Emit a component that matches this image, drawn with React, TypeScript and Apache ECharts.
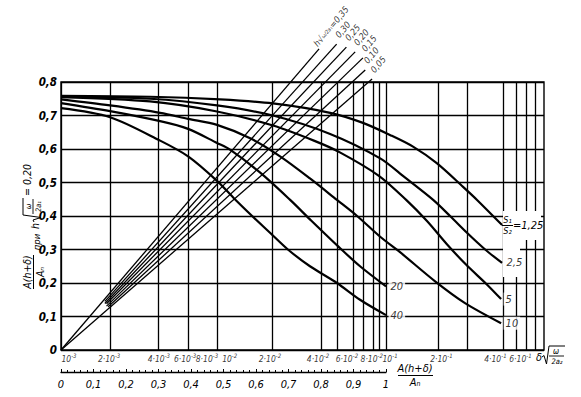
import React, { useEffect, useRef } from "react";
import * as echarts from "echarts";

const FONT = "'DejaVu Sans Condensed', 'Liberation Sans Narrow', 'Liberation Sans', sans-serif";

// ---- axes -------------------------------------------------------------
// vertical axis: A(h+δ)/A_n at h√(ω/2a₁) = 0,20
const yMin = 0;
const yMax = 0.8;
const yStep = 0.1;

// bottom linear scale A(h+δ)/A_n (labelled 0 … 1) and full grid extent in its units
const uMin = 0;
const uMax = 1;
const uStep = 0.1;
const uFull = 1.486;

// δ√(ω/2a₂) scale: grid values and where they sit on the A(h+δ)/A_n scale
const deltaValues = [0.001, 0.002, 0.004, 0.006, 0.01, 0.02, 0.04, 0.05, 0.06, 0.07, 0.08, 0.09, 0.1, 0.2, 0.3, 0.4, 0.5, 0.6, 0.8];
const deltaPositions = [0, 0.148, 0.301, 0.388, 0.476, 0.652, 0.803, 0.853, 0.895, 0.929, 0.956, 0.982, 1.0, 1.155, 1.249, 1.358, 1.399, 1.432, 1.461];

// labelled δ ticks: mantissa, exponent, position
const deltaTickMantissa = ["", "2·", "4·", "6·", "8·", "", "2·", "4·", "6·", "8·", "", "2·", "4·", "6·"];
const deltaTickExponent = ["-3", "-3", "-3", "-3", "-3", "-2", "-2", "-2", "-2", "-2", "-1", "-1", "-1", "-1"];
const deltaTickPos = [0, 0.148, 0.301, 0.388, 0.449, 0.476, 0.652, 0.803, 0.895, 0.956, 1.0, 1.155, 1.358, 1.432];

// ---- S1/S2 curves ([A(h+δ)/A_n scale position, value]) ------------------
const ratioNames = ["1,25", "2,5", "5", "10", "20", "40"];
const curveR125 = [[0, 0.759], [0.274, 0.756], [0.489, 0.748], [0.652, 0.736], [0.828, 0.708], [0.929, 0.678], [1.012, 0.642], [1.083, 0.607], [1.157, 0.557], [1.237, 0.487], [1.28, 0.448], [1.357, 0.373]];
const curveR25 = [[0, 0.757], [0.274, 0.75], [0.48, 0.73], [0.652, 0.7], [0.828, 0.645], [0.982, 0.572], [1.058, 0.515], [1.145, 0.448], [1.197, 0.4], [1.249, 0.35], [1.305, 0.3], [1.357, 0.26]];
const curveR5 = [[0, 0.755], [0.274, 0.742], [0.48, 0.712], [0.652, 0.67], [0.778, 0.625], [0.858, 0.59], [0.978, 0.52], [1.062, 0.448], [1.126, 0.385], [1.188, 0.315], [1.246, 0.255], [1.311, 0.195], [1.354, 0.152]];
const curveR10 = [[0, 0.748], [0.151, 0.73], [0.305, 0.708], [0.391, 0.69], [0.48, 0.672], [0.582, 0.632], [0.674, 0.578], [0.766, 0.512], [0.849, 0.448], [0.911, 0.4], [0.982, 0.338], [1.043, 0.292], [1.151, 0.205], [1.243, 0.14], [1.354, 0.08]];
const curveR20 = [[0, 0.737], [0.151, 0.713], [0.305, 0.683], [0.391, 0.66], [0.48, 0.618], [0.52, 0.598], [0.612, 0.53], [0.705, 0.448], [0.766, 0.39], [0.852, 0.31], [0.92, 0.25], [1.0, 0.19]];
const curveR40 = [[0, 0.722], [0.151, 0.695], [0.305, 0.625], [0.391, 0.578], [0.48, 0.505], [0.535, 0.45], [0.588, 0.4], [0.643, 0.35], [0.698, 0.3], [0.766, 0.25], [0.849, 0.2], [0.92, 0.15], [1.0, 0.104]];

// ---- h√(ω/2a₁) lines ---------------------------------------------------
const hNames = ["0,35", "0,30", "0,25", "0,20", "0,15", "0,10", "0,05"];
const hLine035 = [[0, 0], [0.794, 0.899]];
const hLine030 = [[0.135, 0.145], [0.848, 0.913]];
const hLine025 = [[0.135, 0.139], [0.878, 0.904]];
const hLine020 = [[0.14, 0.138], [0.905, 0.89]];
const hLine015 = [[0.14, 0.131], [0.929, 0.872]];
const hLine010 = [[0.145, 0.129], [0.936, 0.836]];
const hLine005 = [[0, 0], [0.957, 0.809]];

const ratioCurves = [curveR125, curveR25, curveR5, curveR10, curveR20, curveR40];
const hLines = [hLine035, hLine030, hLine025, hLine020, hLine015, hLine010, hLine005];

const comma = (v: number) => (v === 0 ? "0" : Number.isInteger(v) ? String(v) : v.toFixed(1).replace(".", ","));

const txt = (x: number, y: number, text: string, size: number, extra: any = {}) => ({
  type: "text",
  x,
  y,
  z: 30,
  style: {
    text,
    fill: "#000",
    fontSize: size,
    fontStyle: "italic",
    fontFamily: FONT,
    align: "center",
    verticalAlign: "middle",
    textAlign: "center",
    textVerticalAlign: "middle",
    ...extra,
  },
});
const ln = (x1: number, y1: number, x2: number, y2: number, w = 1) => ({
  type: "line",
  z: 30,
  shape: { x1, y1, x2, y2 },
  style: { stroke: "#000", lineWidth: w },
});

function buildOption() {
  const labelShift = [8, 0, 0, -2, 0, 14, -3, -4, -5, 0, 4, 5, -7, -6];
  const series: any[] = [];

  // δ grid lines
  series.push({
    type: "line",
    xAxisIndex: 0,
    yAxisIndex: 0,
    data: [[0, 0]],
    symbol: "none",
    lineStyle: { width: 0 },
    silent: true,
    z: 1,
    markLine: {
      silent: true,
      symbol: ["none", "none"],
      label: { show: false },
      emphasis: { disabled: true },
      lineStyle: { color: "#000", width: 1.3, type: "solid" },
      data: deltaPositions.map((u) => ({ xAxis: u })),
    },
  });

  ratioCurves.forEach((c, i) => {
    series.push({
      type: "line",
      name: ratioNames[i],
      data: c,
      smooth: 0.3,
      symbol: "none",
      silent: true,
      z: 4,
      lineStyle: { color: "#000", width: 2.2 },
    });
  });

  hLines.forEach((l, i) => {
    series.push({
      type: "line",
      name: "h" + hNames[i],
      data: l,
      symbol: "none",
      clip: false,
      silent: true,
      z: 3,
      lineStyle: { color: "#000", width: 1.3 },
    });
  });

  // curve end labels (1,25 is drawn as a fraction in graphic)
  series.push({
    type: "scatter",
    symbolSize: 1,
    itemStyle: { color: "transparent" },
    silent: true,
    z: 10,
    data: ratioCurves.slice(1).map((c, i) => ({
      value: c[c.length - 1],
      label: {
        show: true,
        position: "right",
        distance: 2,
        formatter: ratioNames[i + 1],
        color: "#000",
        fontSize: 11,
        fontStyle: "italic",
        fontFamily: FONT,
        backgroundColor: "#fff",
        padding: [1, 2],
      },
    })),
  });

  // h line labels
  series.push({
    type: "scatter",
    symbolSize: 1,
    itemStyle: { color: "transparent" },
    silent: true,
    clip: false,
    z: 10,
    data: hLines.map((l, i) => ({
      value: l[l.length - 1],
      label: {
        show: true,
        position: i === 0 ? [-3, -3] : [1, -7],
        rotate: 50,
        align: "left",
        verticalAlign: "middle",
        formatter: i === 0 ? "{a|h}{r|√}{f|ω/2a₁}{a|=" + hNames[0] + "}" : hNames[i],
        color: "#000",
        fontSize: 9,
        fontStyle: "italic",
        fontFamily: FONT,
        rich: {
          a: { fontSize: 9, fontStyle: "italic", fontFamily: FONT, color: "#000" },
          r: { fontSize: 9, fontFamily: FONT, color: "#000" },
          f: { fontSize: 5.5, fontStyle: "italic", fontFamily: FONT, color: "#000" },
        },
      },
    })),
  });

  // δ√(ω/2a₂) tick labels
  series.push({
    type: "scatter",
    symbolSize: 1,
    itemStyle: { color: "transparent" },
    silent: true,
    clip: false,
    z: 10,
    data: deltaTickPos.map((u, i) => ({
      value: [u, yMin],
      label: {
        show: true,
        position: "bottom",
        distance: 2,
        offset: [labelShift[i], 0],
        formatter: "{m|" + deltaTickMantissa[i] + "10}{e|" + deltaTickExponent[i] + "}",
        rich: {
          m: { fontSize: 8.5, fontStyle: "italic", fontFamily: FONT, color: "#000", lineHeight: 12 },
          e: { fontSize: 6, fontStyle: "italic", fontFamily: FONT, color: "#000", verticalAlign: "top", lineHeight: 12 },
        },
      },
    })),
  });

  const graphic: any[] = [
    // masks behind labels
    { type: "rect", z: 6, shape: { x: 503, y: 211, width: 38, height: 29 }, style: { fill: "#fff" } },
    { type: "rect", z: 6, shape: { x: 503, y: 240, width: 17, height: 37 }, style: { fill: "#fff" } },
    // S1/S2 = 1,25
    txt(507.5, 219.5, "S₁", 9),
    ln(502, 225.5, 513, 225.5, 1),
    txt(507.5, 231, "S₂", 9),
    txt(513, 225.5, "=1,25", 11, { align: "left", textAlign: "left" }),
    // bottom fraction A(h+δ)/A_n
    txt(415, 368, "A(h+δ)", 11),
    ln(398, 375.5, 433, 375.5, 1.1),
    txt(415, 382.5, "Aₙ", 11),
    // δ√(ω/2a₂)
    txt(539, 357, "δ", 11),
    { type: "polyline", z: 30, shape: { points: [[542, 357], [544, 355.5], [546.5, 364], [549, 346], [565, 346]] }, style: { stroke: "#000", lineWidth: 1, fill: "none" } },
    txt(556, 351, "ω", 8),
    ln(549, 356, 564, 356, 0.9),
    txt(557, 361.5, "2a₂", 7.5),
    // vertical title
    {
      type: "group",
      x: 33,
      y: 228,
      rotation: Math.PI / 2,
      children: [
        txt(-44, -6, "A(h+δ)", 10.5),
        ln(-61, 0.5, -27, 0.5, 1),
        txt(-44, 6.5, "Aₙ", 10.5),
        txt(-14, 3.5, "при", 9.5),
        txt(2, 2, "h", 10.5),
        { type: "polyline", z: 30, shape: { points: [[6, 1], [8, 0], [10.5, 8], [13, -10], [30, -10]] }, style: { stroke: "#000", lineWidth: 1, fill: "none" } },
        txt(21.5, -5, "ω", 7.5),
        ln(14, 0, 29, 0, 0.9),
        txt(21.5, 5, "2a₁", 7.5),
        txt(48, -6, "= 0,20", 10.5),
      ],
    },
  ];

  return {
    animation: false,
    backgroundColor: "#fff",
    grid: [
      { left: 61, top: 82, width: 483, height: 268, show: true, borderColor: "#000", borderWidth: 1.4, backgroundColor: "transparent" },
      { left: 61, top: 371, width: 325, height: 1, show: false },
    ],
    xAxis: [
      { type: "value", gridIndex: 0, min: uMin, max: uFull, show: false },
      {
        type: "value",
        gridIndex: 1,
        min: uMin,
        max: uMax,
        interval: uStep,
        position: "bottom",
        axisLine: { show: true, lineStyle: { color: "#000", width: 1.3 } },
        axisTick: { show: true, inside: true, length: 3, lineStyle: { color: "#000", width: 1 } },
        minorTick: { show: true, splitNumber: 5, length: 2, lineStyle: { color: "#000", width: 1 } },
        splitLine: { show: false },
        axisLabel: { margin: 7, color: "#000", fontSize: 11, fontStyle: "italic", fontFamily: FONT, formatter: comma },
      },
    ],
    yAxis: [
      {
        type: "value",
        gridIndex: 0,
        min: yMin,
        max: yMax,
        interval: yStep,
        axisLine: { show: false },
        axisTick: { show: false },
        splitLine: { show: true, lineStyle: { color: "#000", width: 1.3 } },
        axisLabel: { margin: 4, color: "#000", fontSize: 11.5, fontStyle: "italic", fontWeight: "bold", fontFamily: FONT, formatter: comma },
      },
      { type: "value", gridIndex: 1, show: false, min: 0, max: 1 },
    ],
    series,
    graphic,
  };
}

export default function App() {
  const ref = useRef<HTMLDivElement>(null);
  useEffect(() => {
    const chart = echarts.init(ref.current!, null, { renderer: "svg" });
    chart.setOption(buildOption() as any);
    return () => chart.dispose();
  }, []);
  return (
    <div
      ref={ref}
      style={{ position: "fixed", left: 0, top: 0, width: 581, height: 397, background: "#fff" }}
    />
  );
}
